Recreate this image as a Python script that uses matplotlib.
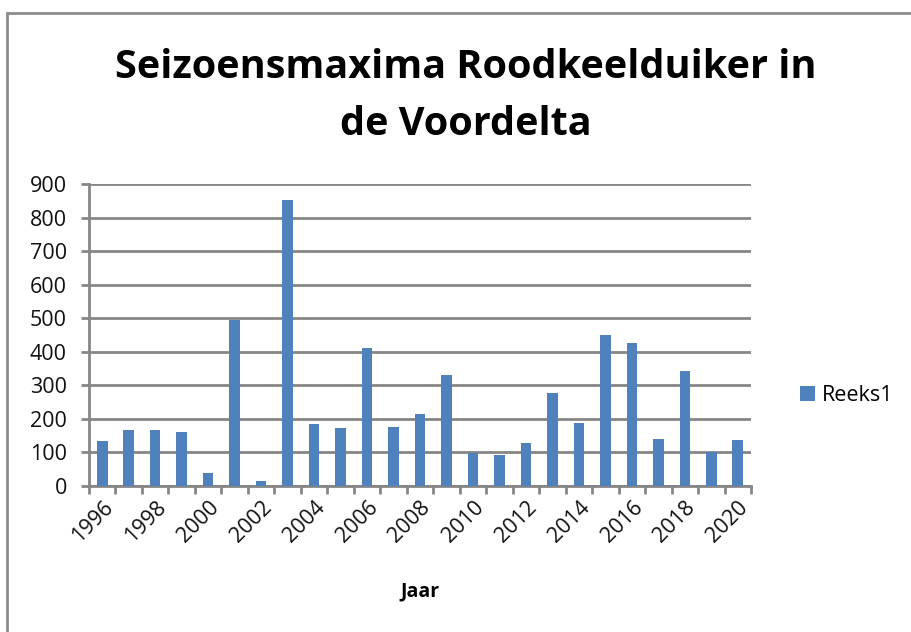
import matplotlib
matplotlib.use('Agg')
import matplotlib.pyplot as plt
from matplotlib.patches import Rectangle
import numpy as np

years = list(range(1996, 2021))
values = [133, 166, 168, 161, 40, 495, 15, 853, 184, 173, 410, 177, 215,
          332, 98, 91, 128, 277, 188, 451, 425, 141, 344, 102, 137]
yticks = [0, 100, 200, 300, 400, 500, 600, 700, 800, 900]
xlabels = [str(y) if (y - 1996) % 2 == 0 else '' for y in years]

title = 'Seizoensmaxima Roodkeelduiker in\nde Voordelta'
xtitle = 'Jaar'
series_name = 'Reeks1'

plt.rcParams['font.family'] = ['Open Sans', 'DejaVu Sans']
bar_color = '#4F81BD'
grid_color = '#868686'

fig = plt.figure(figsize=(9.12, 6.32), dpi=100)
fig.patch.set_facecolor('white')

# outer chart frame
fig.patches.append(Rectangle((7 / 912, -0.05), 1.1, (632 - 13) / 632 + 0.05,
                             transform=fig.transFigure, fill=False,
                             edgecolor='#8c8c8c', linewidth=2))

ax = fig.add_axes([89 / 912, (632 - 486) / 632, (751 - 89) / 912, (486 - 184) / 632])
x = np.arange(len(years))
ax.bar(x, values, width=0.4, color=bar_color, label=series_name, zorder=3)

ax.set_xlim(-0.5, len(years) - 0.5)
ax.set_ylim(0, 900)
ax.set_yticks(yticks)
ax.grid(axis='y', color=grid_color, linewidth=2, zorder=0)
ax.set_axisbelow(True)

ax.set_xticks(x)
ax.set_xticklabels(xlabels, rotation=45, ha='right', rotation_mode='anchor',
                   fontsize=15.5, color='#111111')
ax.tick_params(axis='x', length=0, pad=8)
ax.set_xticks(np.arange(len(years) + 1) - 0.5, minor=True)
ax.tick_params(axis='x', which='minor', length=6, width=2, color=grid_color)
ax.tick_params(axis='y', length=6, width=2, color=grid_color, labelsize=15.5,
               labelcolor='#111111', pad=10)

for s in ['top', 'right']:
    ax.spines[s].set_visible(False)
for s in ['left', 'bottom']:
    ax.spines[s].set_color(grid_color)
    ax.spines[s].set_linewidth(2)

ax.set_xlabel(xtitle, fontsize=14, fontweight='bold', labelpad=25)
fig.text(466 / 912, 1 - 96 / 632, title, ha='center', va='center',
         fontsize=28.5, fontweight='bold', linespacing=1.6)

leg = ax.legend(loc='center left', bbox_to_anchor=(1.045, 0.3), frameon=False,
                fontsize=15.5, handlelength=0.7, handleheight=0.7, handletextpad=0.3)

fig.savefig('out.png', dpi=100)
